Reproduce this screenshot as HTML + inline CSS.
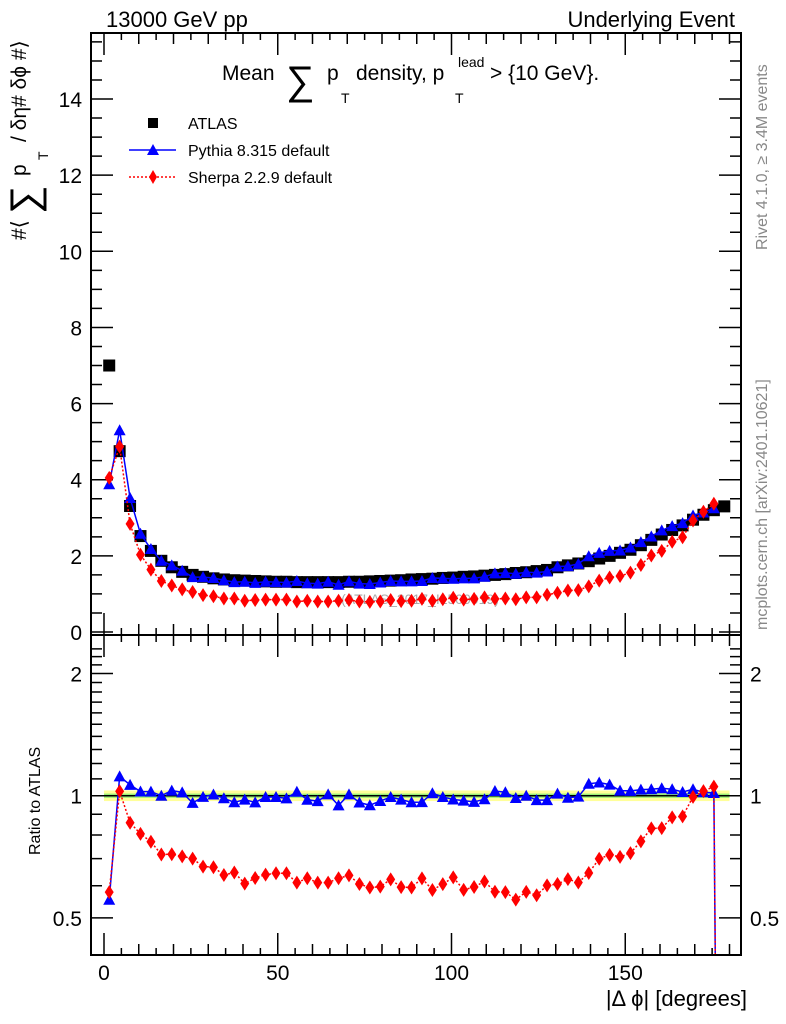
<!DOCTYPE html>
<html><head><meta charset="utf-8"><style>
html,body{margin:0;background:#fff;overflow:hidden;width:786px;height:1024px}
svg{display:block;font-family:"Liberation Sans",sans-serif}
</style></head><body>
<svg id="chart" width="786" height="1024" viewBox="0 0 786 1024" xmlns="http://www.w3.org/2000/svg">
<defs>
<clipPath id="ctop"><rect x="91" y="33" width="650" height="602"/></clipPath>
<clipPath id="cbot"><rect x="91" y="635" width="650" height="320"/></clipPath>
</defs>
<text x="106" y="27" font-size="22">13000 GeV pp</text>
<text x="735" y="27" font-size="22" text-anchor="end">Underlying Event</text>
<text x="767" y="250" font-size="16" fill="#888" transform="rotate(-90 767 250)">Rivet 4.1.0, ≥ 3.4M events</text>
<text x="767" y="630" font-size="16" fill="#888" transform="rotate(-90 767 630)">mcplots.cern.ch [arXiv:2401.10621]</text>
<g font-size="21">
<text x="222" y="80">Mean</text>
<text x="286" y="94" font-size="40">∑</text>
<text x="327" y="80">p</text><text x="341" y="103" font-size="14">T</text>
<text x="356" y="80">density, p</text>
<text x="455" y="103" font-size="14">T</text><text x="458" y="67" font-size="14">lead</text>
<text x="490" y="80">&gt; {10 GeV}.</text>
</g>
<g transform="translate(26 240) rotate(-90)" font-size="21">
<text x="0" y="0">#⟨</text><text x="26" y="12" font-size="40">∑</text><text x="64" y="0">p</text><text x="80" y="22" font-size="14">T</text><text x="98" y="0">/ δη# δϕ #⟩</text>
</g>
<text x="40" y="855" font-size="16" transform="rotate(-90 40 855)">Ratio to ATLAS</text>
<text x="747" y="1006" font-size="22" text-anchor="end">|Δ ϕ| [degrees]</text>
<text x="420" y="604" font-size="14" fill="#aaa" text-anchor="middle">(ATLAS_2017_I1509919)</text>
<g id="axes"></g>
<g id="marks-top" clip-path="url(#ctop)"></g>
<g id="marks-bot" clip-path="url(#cbot)"></g>
<rect x="91" y="33" width="650" height="602" fill="none" stroke="#000" stroke-width="2"/>
<rect x="91" y="635" width="650" height="320" fill="none" stroke="#000" stroke-width="2"/>
<g font-size="16">
<rect x="148" y="118" width="10" height="10" fill="#000"/>
<text x="188" y="129">ATLAS</text>
<line x1="129" y1="150" x2="176" y2="150" stroke="#00f" stroke-width="1.5"/>
<polygon points="153,144 147,155 159,155" fill="#00f"/>
<text x="188" y="156">Pythia 8.315 default</text>
<line x1="129" y1="177" x2="176" y2="177" stroke="#f00" stroke-width="1.5" stroke-dasharray="2,2"/>
<polygon points="153,170 157,177 153,184 149,177" fill="#f00"/>
<text x="188" y="183">Sherpa 2.2.9 default</text>
</g>
</svg>
<script>
const binCenters = [1.5,4.5,7.5,10.5,13.5,16.5,19.5,22.5,25.5,28.5,31.5,34.5,37.5,40.5,43.5,46.5,49.5,52.5,55.5,58.5,61.5,64.5,67.5,70.5,73.5,76.5,79.5,82.5,85.5,88.5,91.5,94.5,97.5,100.5,103.5,106.5,109.5,112.5,115.5,118.5,121.5,124.5,127.5,130.5,133.5,136.5,139.5,142.5,145.5,148.5,151.5,154.5,157.5,160.5,163.5,166.5,169.5,172.5,175.5,178.5];
const atlas = [7.0,4.75,3.31,2.52,2.13,1.87,1.70,1.58,1.50,1.45,1.41,1.38,1.36,1.35,1.34,1.33,1.32,1.32,1.31,1.31,1.31,1.31,1.31,1.32,1.32,1.33,1.34,1.35,1.36,1.38,1.39,1.40,1.42,1.43,1.45,1.46,1.48,1.50,1.52,1.55,1.57,1.60,1.63,1.70,1.75,1.80,1.86,1.93,2.00,2.08,2.16,2.28,2.42,2.56,2.68,2.80,2.95,3.08,3.20,3.30];
const pythia = [3.88,5.30,3.52,2.58,2.18,1.87,1.75,1.61,1.44,1.44,1.42,1.36,1.31,1.32,1.29,1.32,1.31,1.30,1.34,1.28,1.27,1.32,1.24,1.33,1.27,1.26,1.30,1.34,1.33,1.33,1.34,1.42,1.41,1.40,1.41,1.41,1.45,1.54,1.55,1.53,1.57,1.56,1.59,1.72,1.73,1.79,1.99,2.08,2.13,2.14,2.22,2.36,2.51,2.67,2.78,2.86,3.06,3.14,3.25,0];
const sherpa = [4.05,4.87,2.84,2.03,1.64,1.34,1.22,1.12,1.05,0.97,0.94,0.88,0.88,0.82,0.84,0.85,0.85,0.85,0.80,0.82,0.80,0.80,0.82,0.84,0.80,0.79,0.80,0.84,0.81,0.82,0.87,0.82,0.86,0.90,0.85,0.87,0.91,0.87,0.88,0.86,0.91,0.91,0.98,1.03,1.09,1.10,1.20,1.35,1.43,1.47,1.56,1.76,2.01,2.13,2.37,2.49,2.93,3.16,3.37,0];
const yTickLabels = [0,2,4,6,8,10,12,14];
const xTickLabels = [0,50,100,150];
const ratioTickLabels = [0.5,1,2];

(function(){
const NS='http://www.w3.org/2000/svg';
const X = d => 104 + d*3.475;
const Y = v => 632 - v*38.07;
const R = r => 795.7 - Math.log10(Math.max(r,1e-3))*406;
function el(tag, attrs, parent){const e=document.createElementNS(NS,tag);for(const k in attrs)e.setAttribute(k,attrs[k]);parent.appendChild(e);return e;}
const axes=document.getElementById('axes'), gTop=document.getElementById('marks-top'), gBot=document.getElementById('marks-bot');

for(let v=0; v<=15.5; v+=0.5){
  const y=Y(v), maj=(v%2===0), L=maj?22:11;
  const t=el('path',{d:`M91 ${y}h${L}M741 ${y}h${-L}`,stroke:'#000','stroke-width':1.5},axes);
  
  
}
yTickLabels.forEach(v=>{
  const t=el('text',{x:82,y:Y(v)+8,'font-size':21,'text-anchor':'end'},axes);t.textContent=v;
  
  
});
for(let d=0; d<=180; d+=5){
  const x=X(d), L=(d%50===0)?22:(d%10===0?11:7);
  const t=el('path',{d:`M${x} 635v${-L}M${x} 33v${L}M${x} 955v${-L}M${x} 635v${L}`,stroke:'#000','stroke-width':1.5},axes);
  
  
}
xTickLabels.forEach(d=>{
  const t=el('text',{x:X(d),y:980,'font-size':21,'text-anchor':'middle'},axes);t.textContent=d;
  
  
});
[0.5,0.6,0.7,0.8,0.9,1,1.1,1.2,1.3,1.4,1.5,1.6,1.7,1.8,1.9,2,2.1,2.2,2.3].forEach(r=>{
  const y=R(r), maj=ratioTickLabels.includes(r), L=maj?22:11;
  const t=el('path',{d:`M91 ${y}h${L}M741 ${y}h${-L}`,stroke:'#000','stroke-width':1.5},axes);
  
  
});
ratioTickLabels.forEach(r=>{
  [[82,'end'],[750,'start']].forEach(([x,a])=>{
    const t=el('text',{x:x,y:R(r)+8,'font-size':21,'text-anchor':a},axes);t.textContent=r;
    
    
  });
});
const band=el('rect',{x:X(0),y:R(1.03),width:X(180)-X(0),height:R(0.97)-R(1.03),fill:'#ffff99'},gBot);


const band2=el('rect',{x:X(0),y:R(1.012),width:X(180)-X(0),height:R(0.988)-R(1.012),fill:'#99ee77'},gBot);


const one=el('line',{x1:X(0),x2:X(180),y1:R(1),y2:R(1),stroke:'#000','stroke-width':1.5},gBot);



function tri(x,y,c,g){return el('polygon',{points:`${x},${y-6} ${x-6},${y+5} ${x+6},${y+5}`,fill:c},g);}
function dia(x,y,c,g){return el('polygon',{points:`${x},${y-7} ${x+4.5},${y} ${x},${y+7} ${x-4.5},${y}`,fill:c},g);}

atlas.forEach((v,i)=>{
  const s=el('rect',{x:X(binCenters[i])-6,y:Y(v)-6,width:12,height:12,fill:'#000'},gTop);
  
  
});

function series(vals, color, dash, name, shape){
  const ptsTop=[], ptsBot=[];
  vals.forEach((v,i)=>{ if(v>0) ptsTop.push(`${X(binCenters[i])},${Y(v)}`); ptsBot.push(`${X(binCenters[i])},${R(v/atlas[i])}`); });
  const l1=el('polyline',{points:ptsTop.join(' '),fill:'none',stroke:color,'stroke-width':1.5,'stroke-dasharray':dash},gTop);
  
  
  const l2=el('polyline',{points:ptsBot.join(' '),fill:'none',stroke:color,'stroke-width':1.5,'stroke-dasharray':dash},gBot);
  
  
  vals.forEach((v,i)=>{
    if(v<=0) return;
    const m=shape(X(binCenters[i]),Y(v),color,gTop);
    
    
    const m2=shape(X(binCenters[i]),R(v/atlas[i]),color,gBot);
    
    
  });
}
series(pythia,'#0000ff','none','pythia',tri);
series(sherpa,'#ff0000','2,2','sherpa',dia);
})();
</script>
</body></html>
